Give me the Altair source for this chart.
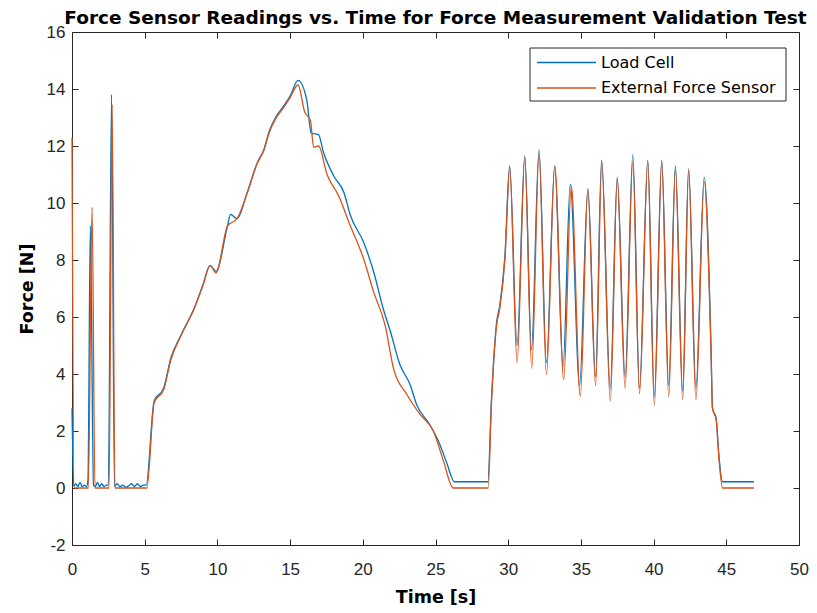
import altair as alt
import pandas as pd

# ---- data ----
lc_t = [0.0, 0.12, 0.25, 0.4, 0.55, 0.7, 0.85, 1.0, 1.1, 1.26, 1.48, 1.6, 1.75, 1.9, 2.05, 2.2, 2.35, 2.5,
        2.72, 2.92, 3.1, 3.3, 3.5, 3.7, 3.9, 4.1, 4.3, 4.5, 4.7, 4.9, 5.1, 5.65, 6.3, 6.8, 7.5, 8.4, 9.0,
        9.5, 9.9, 10.7, 10.9, 11.35, 12.05, 12.75, 13.2, 13.55, 14.0, 14.55, 15.0, 15.55, 16.15, 16.45,
        16.95, 17.3, 18.0, 18.7, 19.15, 20.05, 20.75, 21.4, 21.9, 22.55, 23.25, 23.7, 24.6, 25.3, 25.8,
        26.3, 28.6, 28.85, 29.2, 29.42, 29.77, 30.1, 30.61, 31.14, 31.6, 32.12, 32.63, 33.2, 33.77, 34.27,
        34.91, 35.48, 36.01, 36.42, 37.02, 37.5, 38.04, 38.57, 39.03, 39.6, 40.05, 40.56, 41.04, 41.5,
        42.0, 42.41, 42.91, 43.48, 43.95, 44.05, 44.3, 44.5, 44.74, 46.9]
lc_f = [2.8, 0.05, 0.15, 0.05, 0.2, 0.05, 0.1, 0.05, 0.3, 9.2, 0.1, 0.05, 0.2, 0.05, 0.15, 0.05, 0.1, 0.1,
        13.8, 0.05, 0.15, 0.05, 0.1, 0.02, 0.08, 0.15, 0.05, 0.15, 0.05, 0.1, 0.1, 3.05, 3.5, 4.56, 5.37,
        6.3, 7.12, 7.81, 7.6, 9.21, 9.6, 9.45, 10.37, 11.42, 11.88, 12.5, 13.0, 13.4, 13.75, 14.3, 13.6,
        12.45, 12.4, 11.77, 10.95, 10.37, 9.56, 8.63, 7.58, 6.3, 5.49, 4.33, 3.63, 2.93, 2.23, 1.53, 0.84,
        0.22, 0.22, 3.1, 5.8, 6.4, 8.1, 11.3, 5.0, 11.65, 4.85, 11.86, 4.4, 11.3, 4.25, 10.66, 3.6, 10.5,
        3.9, 11.5, 3.5, 10.9, 3.9, 11.7, 3.5, 11.5, 3.2, 11.5, 3.6, 11.3, 3.4, 11.2, 3.5, 10.9, 4.9, 2.8,
        2.45, 1.1, 0.22, 0.22]

efs_t = [0.0, 0.15, 1.12, 1.38, 1.58, 2.55, 2.76, 2.95, 5.15, 5.65, 6.3, 6.8, 7.5, 8.4, 9.0, 9.5, 9.9,
         10.7, 11.35, 12.05, 12.75, 13.2, 13.55, 14.0, 14.55, 15.0, 15.55, 16.0, 16.4, 16.62, 16.96, 17.54,
         18.34, 19.14, 20.05, 20.73, 21.54, 22.11, 23.03, 23.94, 24.85, 25.54, 26.22, 28.62, 28.85, 29.2,
         29.42, 29.77, 30.11, 30.61, 31.14, 31.62, 32.12, 32.63, 33.2, 33.82, 34.34, 34.96, 35.48, 36.01,
         36.44, 37.02, 37.5, 38.04, 38.57, 39.03, 39.6, 40.05, 40.56, 41.04, 41.5, 42.0, 42.41, 42.91,
         43.48, 43.95, 44.05, 44.3, 44.5, 44.74, 46.9]
efs_f = [12.3, 0.0, 0.0, 9.85, 0.0, 0.0, 13.45, 0.0, 0.0, 3.0, 3.45, 4.5, 5.35, 6.3, 7.1, 7.8, 7.55,
         9.2, 9.45, 10.35, 11.4, 11.85, 12.45, 12.95, 13.35, 13.7, 14.15, 13.2, 12.9, 11.95, 12.0, 11.0,
         10.25, 9.2, 8.05, 6.9, 5.7, 4.2, 3.28, 2.58, 2.0, 0.96, 0.0, 0.0, 3.0, 5.7,
         6.3, 8.0, 11.25, 4.4, 11.6, 4.2, 11.75, 3.98, 11.3, 3.8, 10.6, 3.22, 10.45, 3.6,
         11.45, 3.05, 10.85, 3.5, 11.45, 3.3, 11.45, 2.9, 11.45, 3.2, 11.2, 3.1, 11.15, 3.1,
         10.75, 4.8, 2.8, 2.4, 1.0, 0.0, 0.0]

series_names = ["Load Cell", "External Force Sensor"]
series_colors = ["#0072BD", "#D95319"]
x_ticks = list(range(0, 51, 5))
y_ticks = list(range(-2, 17, 2))

title_text = "Force Sensor Readings vs. Time for Force Measurement Validation Test"
x_title = "Time [s]"
y_title = "Force [N]"

df_lc = pd.DataFrame({"t": lc_t, "f": lc_f, "series": series_names[0]})
df_efs = pd.DataFrame({"t": efs_t, "f": efs_f, "series": series_names[1]})

FONT = "Liberation Sans"
WFONT = "DejaVu Sans"
AX = "#262626"
W, H = 727, 513
TK = 6

xscale = alt.Scale(domain=[0, 50], nice=False, zero=False)
yscale = alt.Scale(domain=[-2, 16], nice=False, zero=False)

common_axis = dict(domain=False, grid=False, tickSize=TK, offset=-TK, tickColor=AX, tickWidth=1,
                   labelColor=AX, labelFont=FONT, labelFontSize=17, titleFont=WFONT,
                   titleFontSize=17.5, titleFontWeight="bold", titleColor="#000000",
                   labelFlush=False, labelOverlap=False,
                   labelExpr="'' + datum.value")

x_bottom = alt.Axis(orient="bottom", values=x_ticks, title=x_title, labelPadding=16,
                    titlePadding=11, **common_axis)
y_left = alt.Axis(orient="left", values=y_ticks, title=y_title, labelPadding=7,
                  titlePadding=10, **common_axis)
x_top = alt.Axis(orient="top", values=x_ticks, title=None, labels=False, **common_axis)
y_right = alt.Axis(orient="right", values=y_ticks, title=None, labels=False, **common_axis)

line_lc = alt.Chart(df_lc).mark_line(interpolate="monotone", strokeWidth=1.3,
                                      color=series_colors[0]).encode(
    x=alt.X("t:Q", scale=xscale, axis=x_bottom),
    y=alt.Y("f:Q", scale=yscale, axis=y_left),
)
line_efs = alt.Chart(df_efs).mark_line(interpolate="monotone", strokeWidth=1.3,
                                        color=series_colors[1]).encode(
    x=alt.X("t:Q", scale=xscale, axis=x_top),
    y=alt.Y("f:Q", scale=yscale, axis=y_right),
)

# manual legend (MATLAB style box)
leg_box = alt.Chart(pd.DataFrame({"k": [0]})).mark_rect(
    fill="white", stroke=AX, strokeWidth=1).encode(
    x=alt.value(458), x2=alt.value(714), y=alt.value(16), y2=alt.value(69))
leg_layers = [leg_box]
for i, (name, col) in enumerate(zip(series_names, series_colors)):
    yy = 30.5 + i * 25.5
    d = pd.DataFrame({"label": [name]})
    leg_layers.append(alt.Chart(d).mark_rule(color=col, strokeWidth=1.3).encode(
        x=alt.value(465), x2=alt.value(524), y=alt.value(yy)))
    leg_layers.append(alt.Chart(d).mark_text(align="left", baseline="middle", font=WFONT,
                                             fontSize=16, color="#000000").encode(
        x=alt.value(529), y=alt.value(yy), text="label:N"))

chart = alt.layer(line_lc, line_efs, *leg_layers).resolve_axis(
    x="independent", y="independent"
).properties(
    width=W, height=H,
    title=alt.TitleParams(title_text, font=WFONT, fontSize=18.5, fontWeight="bold",
                          color="#000000", anchor="middle", offset=-4),
    padding={"left": 64, "top": 24, "right": 10, "bottom": 64},
    autosize=alt.AutoSizeParams(type="none"),
).configure_view(stroke=AX, strokeWidth=1)

chart.save("out.html", embed_options={"renderer": "svg", "actions": False})
